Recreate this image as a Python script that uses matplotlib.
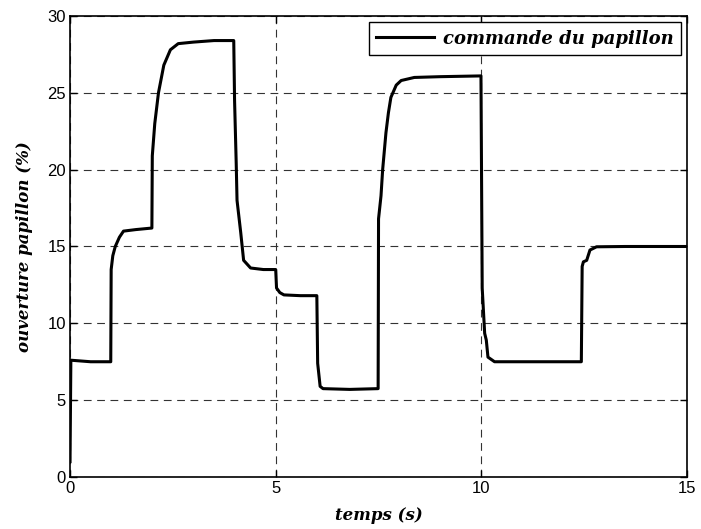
import matplotlib
matplotlib.use("Agg")
import matplotlib.pyplot as plt

# Throttle command samples (time in s, opening in %)
temps = [0.00, 0.02, 0.50, 0.99,
         1.00, 1.04, 1.10, 1.20, 1.30, 1.60, 1.99,
         2.00, 2.06, 2.15, 2.28, 2.44, 2.63, 3.00, 3.50, 3.98,
         4.00, 4.04, 4.06, 4.15, 4.22, 4.39, 4.70, 5.00,
         5.02, 5.10, 5.20, 5.60, 6.00,
         6.02, 6.08, 6.15, 6.80, 7.49,
         7.50, 7.56, 7.60, 7.68, 7.74, 7.80, 7.93, 8.05, 8.37, 9.00, 9.99,
         10.02, 10.08, 10.12, 10.16, 10.32, 11.00, 12.43,
         12.45, 12.48, 12.56, 12.64, 12.80, 13.50, 15.00]
ouverture = [1.0, 7.6, 7.5, 7.5,
             13.5, 14.4, 15.0, 15.6, 16.0, 16.1, 16.2,
             20.9, 23.0, 25.0, 26.8, 27.8, 28.2, 28.3, 28.4, 28.4,
             24.5, 20.4, 18.0, 15.9, 14.1, 13.6, 13.5, 13.5,
             12.3, 12.0, 11.85, 11.8, 11.8,
             7.4, 5.9, 5.75, 5.7, 5.75,
             16.8, 18.3, 20.0, 22.4, 23.7, 24.7, 25.5, 25.8, 26.0, 26.05, 26.1,
             12.3, 9.35, 8.9, 7.8, 7.5, 7.5, 7.5,
             13.7, 14.0, 14.1, 14.77, 14.98, 15.0, 15.0]

x_ticks = [0, 5, 10, 15]
y_ticks = [0, 5, 10, 15, 20, 25, 30]

fig = plt.figure(figsize=(7.01, 5.29), dpi=100)
ax = fig.add_axes([0.0999, 0.0983, 0.8802, 0.8715])

ax.plot(temps, ouverture, color="black", linewidth=2.2,
        solid_joinstyle="round", label="commande du papillon")

ax.set_xlim(0, 15)
ax.set_ylim(0, 30)
ax.set_xticks(x_ticks)
ax.set_yticks(y_ticks)
ax.set_xticklabels([str(v) for v in x_ticks], family="Liberation Sans", fontsize=12)
ax.set_yticklabels([str(v) for v in y_ticks], family="Liberation Sans", fontsize=12)
ax.tick_params(direction="in", length=5, width=1, top=True, right=True, pad=3)

ax.grid(True, color="#333333", linestyle=(0, (7, 5)), linewidth=0.8)
for s in ax.spines.values():
    s.set_linewidth(1.2)
    s.set_color("black")

lab_font = dict(family="DejaVu Serif", fontweight="bold", style="italic", fontsize=12)
ax.set_xlabel("temps (s)", labelpad=8, **lab_font)
ax.set_ylabel("ouverture papillon (%)", labelpad=10, **lab_font)

leg = ax.legend(loc="upper right", frameon=True, fancybox=False, borderaxespad=0.35,
                handlelength=3.2, handletextpad=0.5, borderpad=0.4,
                prop=dict(family="DejaVu Serif", weight="bold", style="italic", size=13))
leg.get_frame().set_edgecolor("black")
leg.get_frame().set_linewidth(1.0)
leg.get_frame().set_alpha(1.0)

fig.savefig("out.png", dpi=100)
